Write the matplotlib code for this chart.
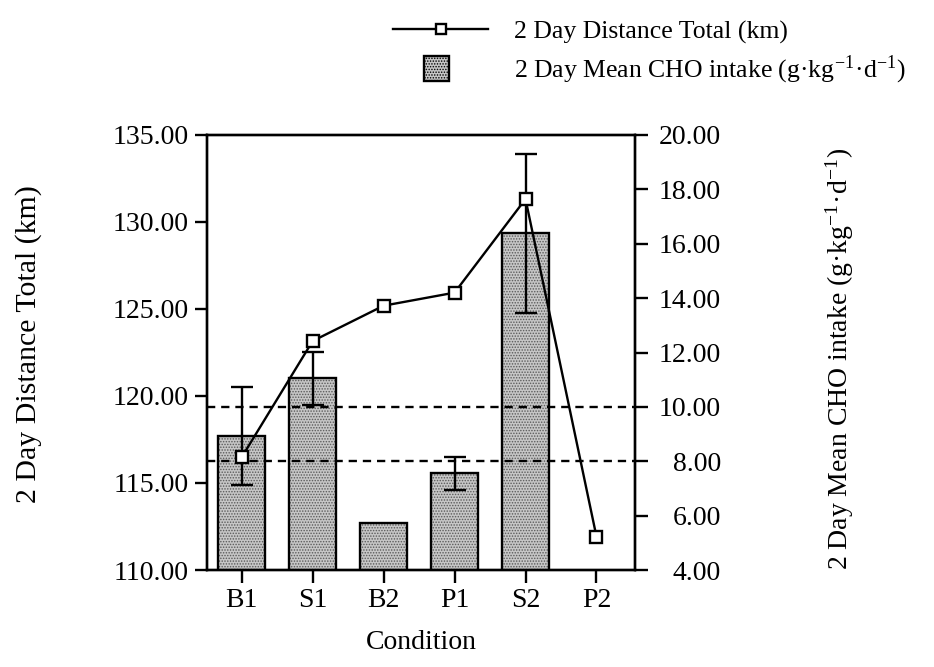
import matplotlib
matplotlib.use('Agg')
import matplotlib.pyplot as plt
import numpy as np
from matplotlib.patches import Rectangle
from matplotlib.lines import Line2D
from matplotlib.legend_handler import HandlerPatch

plt.rcParams['font.family'] = ['Liberation Serif', 'DejaVu Serif']
plt.rcParams['mathtext.fontset'] = 'stix'
plt.rcParams['font.size'] = 20
plt.rcParams['hatch.linewidth'] = 0.7

# data
conditions = ['B1', 'S1', 'B2', 'P1', 'S2', 'P2']
distance_km = [116.48, 123.16, 125.19, 125.94, 131.32, 111.92]
cho_intake = [8.93, 11.05, 5.72, 7.56, 16.38]      # no bar for P2
cho_err = [1.81, 0.98, 0.0, 0.61, 2.91]
cho_guides = [10.0, 8.0]

fig = plt.figure(figsize=(9.34, 6.67), dpi=100)
ax = fig.add_axes([207/934, 1-570/667, 428/934, 435/667])
ax2 = ax.twinx()

x = np.arange(len(conditions))
xb = x[:len(cho_intake)]

# bars on the right (CHO) axis
ax2.bar(xb, cho_intake, width=0.67, color='#c6c6c6', hatch='......',
        edgecolor='#5a5a5a', linewidth=0, zorder=1)
ax2.bar(xb, cho_intake, width=0.67, fill=False, edgecolor='black',
        linewidth=1.7, zorder=2)
err = np.array(cho_err)
m = err > 0
ax2.errorbar(xb[m], np.array(cho_intake)[m], yerr=err[m], fmt='none',
             ecolor='black', elinewidth=1.7, capsize=8, capthick=1.7, zorder=3)
for g in cho_guides:
    ax2.axhline(g, color='black', lw=1.7, ls=(0, (3.5, 2.5)), zorder=3)

# distance line on the left axis, drawn on top
ax.set_zorder(ax2.get_zorder() + 1)
ax.patch.set_visible(False)
ax.plot(x, distance_km, color='black', lw=1.7, marker='s', ms=8,
        mfc='white', mec='black', mew=1.7, zorder=4)

ax.set_xlim(-0.489, 5.543)
ax.set_ylim(110, 135)
ax2.set_ylim(4, 20)
ax.set_yticks(np.arange(110, 136, 5))
ax2.set_yticks(np.arange(4, 21, 2))
ax.yaxis.set_major_formatter(matplotlib.ticker.FormatStrFormatter('%.2f'))
ax2.yaxis.set_major_formatter(matplotlib.ticker.FormatStrFormatter('%.2f'))
ax.set_xticks(x)
ax.set_xticklabels(conditions)

for a in (ax, ax2):
    for s in a.spines.values():
        s.set_linewidth(1.7)
ax.tick_params(axis='both', direction='out', length=9, width=1.7, pad=4)
ax2.tick_params(axis='y', direction='out', length=9, width=1.7, pad=53)
for lbl in ax2.get_yticklabels():
    lbl.set_ha('right')

ax.set_xlabel('Condition', labelpad=12, fontsize=20)
ax.set_ylabel('2 Day Distance Total (km)', fontsize=21.5)
ax.yaxis.set_label_coords(-0.385, 0.52)
cho_label = r'2 Day Mean CHO intake (g·kg$^{\mathregular{-1}}$·d$^{\mathregular{-1}}$)'
ax2.set_ylabel(cho_label, fontsize=20)
ax2.yaxis.set_label_coords(1.44, 0.485)


def small_box(legend, orig_handle, xdescent, ydescent, width, height, fontsize):
    s = height * 1.4
    return Rectangle((width/2 - s/2 - xdescent - 3, height/2 - s/2 - ydescent), s, s)


line_h = Line2D([], [], color='black', lw=1.7, marker='s', ms=7,
                mfc='white', mec='black', mew=1.7)
box_h = Rectangle((0, 0), 1, 1, facecolor='#c6c6c6', edgecolor='black',
                  hatch='......', linewidth=1.7)
fig.legend([line_h, box_h],
           ['2 Day Distance Total (km)', cho_label],
           loc='upper left', bbox_to_anchor=(370/934, 1+3/667),
           frameon=False, handlelength=3.7, handletextpad=1.0,
           labelspacing=0.38, fontsize=18.5,
           handler_map={Rectangle: HandlerPatch(patch_func=small_box)})

fig.savefig('out.png', dpi=100)
